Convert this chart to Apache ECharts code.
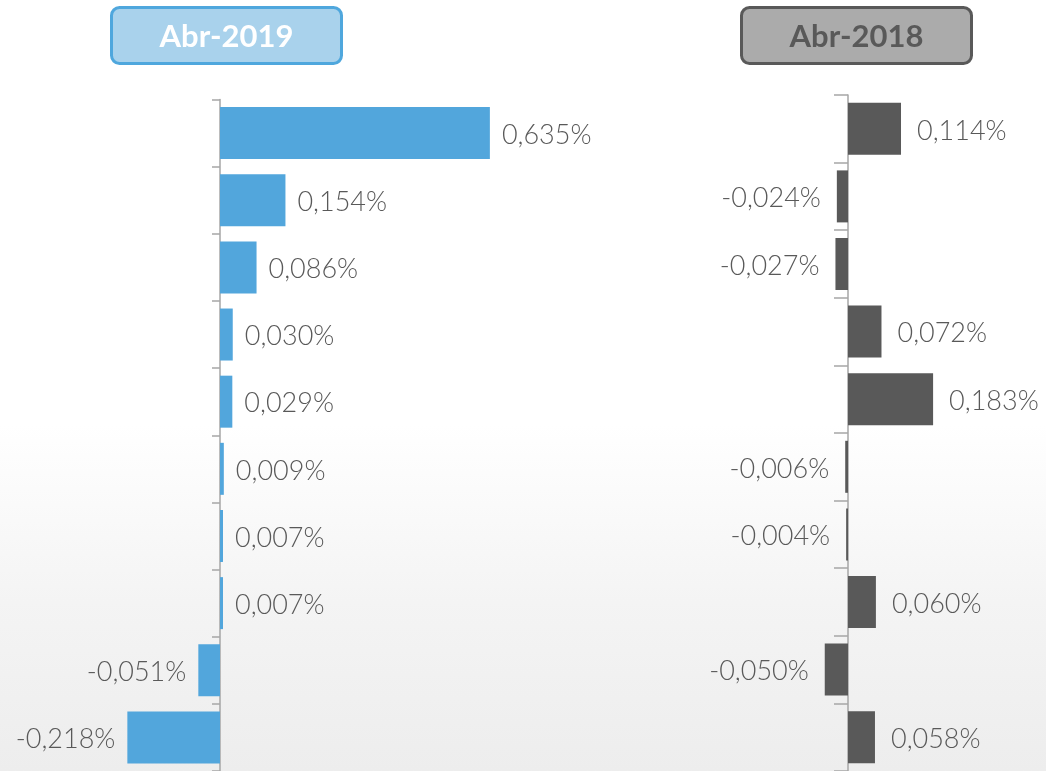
<!DOCTYPE html>
<html>
<head>
<meta charset="utf-8">
<script src="https://cdn.jsdelivr.net/npm/echarts@6/dist/echarts.min.js"></script>
<style>
  html, body { margin: 0; padding: 0; }
  body {
    width: 1046px; height: 771px; overflow: hidden;
    background: linear-gradient(to bottom, #ffffff 0%, #ffffff 55%, #f4f4f4 78%, #ededed 100%);
  }
  #chart { width: 1046px; height: 771px; }
</style>
</head>
<body>
<div id="chart"></div>
<script>
// values in %
const categories = ["c1", "c2", "c3", "c4", "c5", "c6", "c7", "c8", "c9", "c10"];
const values2019 = [0.635, 0.154, 0.086, 0.030, 0.029, 0.009, 0.007, 0.007, -0.051, -0.218];
const values2018 = [0.114, -0.024, -0.027, 0.072, 0.183, -0.006, -0.004, 0.060, -0.050, 0.058];
const titles = ["Abr-2019", "Abr-2018"];

const labelFont = { fontFamily: "Lato", fontWeight: 300, fontSize: 27, color: "#595959" };

function fmt(v) {
  return v.toFixed(3).replace(".", ",") + "%";
}

function toData(vals) {
  return vals.map((v) => ({
    value: v,
    label: { position: v < 0 ? "left" : "right" },
  }));
}

function titleBox(x, text, fill, stroke, textColor) {
  return {
    type: "group",
    left: x,
    top: 6,
    children: [
      {
        type: "rect",
        shape: { x: 0, y: 0, width: 230, height: 56, r: 8 },
        style: { fill: fill, stroke: stroke, lineWidth: 3 },
      },
      {
        type: "text",
        x: 115,
        y: 29,
        style: {
          text: text,
          fill: textColor,
          font: "bold 31px Lato",
          align: "center",
          verticalAlign: "middle",
        },
      },
    ],
  };
}

const chart = echarts.init(document.getElementById("chart"));

const catAxis = (gridIndex, tickLen) => ({
  type: "category",
  gridIndex: gridIndex,
  data: categories,
  inverse: true,
  axisLine: { onZero: true, lineStyle: { color: "#a6a6a6", width: 1.5 } },
  axisTick: { show: true, length: tickLen, lineStyle: { color: "#a6a6a6", width: 1.5 } },
  axisLabel: { show: false },
  splitLine: { show: false },
});

const valAxis = (gridIndex, min, max) => ({
  type: "value",
  gridIndex: gridIndex,
  min: min,
  max: max,
  show: false,
  splitLine: { show: false },
});

chart.setOption({
  animation: false,
  backgroundColor: "transparent",
  graphic: [
    titleBox(110, titles[0], "#a9d2ec", "#4fa7dd", "#ffffff"),
    titleBox(740, titles[1], "#ababab", "#595959", "#595959"),
  ],
  grid: [
    { left: 92.5, top: 99.5, width: 467.5, height: 673 },
    { left: 801.5, top: 95, width: 186, height: 676 },
  ],
  xAxis: [valAxis(0, -0.3, 0.8), valAxis(1, -0.1, 0.3)],
  yAxis: [catAxis(0, 8), catAxis(1, 14)],
  series: [
    {
      type: "bar",
      xAxisIndex: 0,
      yAxisIndex: 0,
      barWidth: 52,
      itemStyle: { color: "#52a6dc" },
      label: Object.assign({ show: true, distance: 12, offset: [0, 2], formatter: (p) => fmt(p.value) }, labelFont),
      data: toData(values2019),
    },
    {
      type: "bar",
      xAxisIndex: 1,
      yAxisIndex: 1,
      barWidth: 52,
      itemStyle: { color: "#595959" },
      label: Object.assign({ show: true, distance: 16, offset: [0, 2], formatter: (p) => fmt(p.value) }, labelFont),
      data: toData(values2018),
    },
  ],
});
</script>
</body>
</html>
